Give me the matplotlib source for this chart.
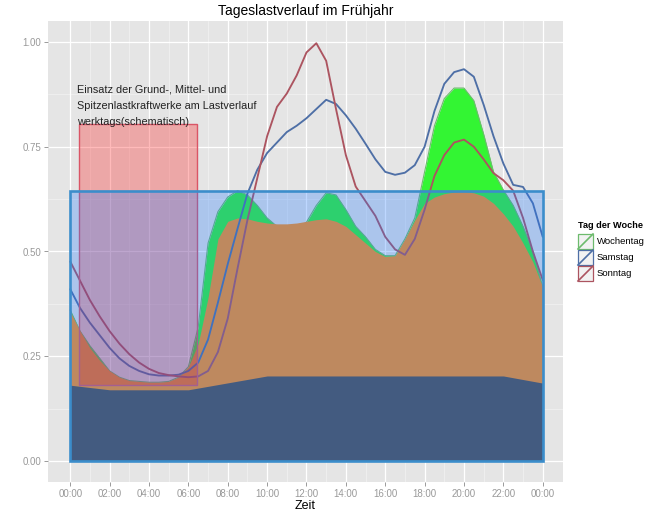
import numpy as np
import matplotlib
matplotlib.use("Agg")
import matplotlib.pyplot as plt
from matplotlib.patches import Rectangle

plt.rcParams['font.family'] = ['Liberation Sans', 'DejaVu Sans']

# ---------------- data ----------------
hours = np.arange(0, 24.01, 0.5)

wochentag = [0.360, 0.310, 0.275, 0.245, 0.215, 0.200, 0.192, 0.190, 0.188, 0.188,
             0.190, 0.200, 0.225, 0.320, 0.520, 0.595, 0.630, 0.645, 0.635, 0.610,
             0.580, 0.560, 0.550, 0.553, 0.570, 0.610, 0.640, 0.635, 0.600, 0.560,
             0.535, 0.505, 0.490, 0.490, 0.530, 0.580, 0.690, 0.800, 0.865, 0.890,
             0.890, 0.860, 0.780, 0.690, 0.647, 0.610, 0.560, 0.500, 0.415]

mittellast = [0.356, 0.310, 0.270, 0.240, 0.215, 0.200, 0.192, 0.190, 0.188, 0.188,
              0.190, 0.200, 0.225, 0.280, 0.390, 0.530, 0.572, 0.580, 0.578, 0.572,
              0.568, 0.566, 0.566, 0.568, 0.572, 0.576, 0.578, 0.572, 0.560, 0.540,
              0.520, 0.500, 0.488, 0.490, 0.530, 0.575, 0.615, 0.630, 0.638, 0.642,
              0.643, 0.640, 0.632, 0.615, 0.590, 0.560, 0.520, 0.475, 0.415]

samstag = [0.410, 0.365, 0.330, 0.300, 0.270, 0.245, 0.227, 0.215, 0.207, 0.204,
           0.204, 0.206, 0.215, 0.235, 0.290, 0.378, 0.470, 0.555, 0.638, 0.695,
           0.735, 0.760, 0.785, 0.800, 0.818, 0.840, 0.862, 0.852, 0.825, 0.793,
           0.757, 0.720, 0.690, 0.683, 0.688, 0.706, 0.750, 0.835, 0.900, 0.928,
           0.935, 0.917, 0.850, 0.775, 0.710, 0.659, 0.654, 0.615, 0.535]

sonntag = [0.476, 0.430, 0.384, 0.345, 0.310, 0.280, 0.255, 0.235, 0.220, 0.210,
           0.205, 0.202, 0.200, 0.202, 0.215, 0.260, 0.340, 0.460, 0.575, 0.675,
           0.775, 0.845, 0.877, 0.920, 0.975, 0.997, 0.955, 0.840, 0.730, 0.655,
           0.620, 0.585, 0.535, 0.505, 0.492, 0.530, 0.600, 0.680, 0.730, 0.760,
           0.767, 0.750, 0.720, 0.687, 0.670, 0.645, 0.580, 0.500, 0.432]

grund_hours = [0, 2, 6, 10, 22, 24]
grundlast = [0.181, 0.170, 0.170, 0.203, 0.203, 0.186]

# schematic boxes (hours / load)
mittel_box = (0.0, 24.0, 0.0, 0.645)
spitzen_box = (0.42, 6.42, 0.182, 0.804)

xtick_hours = list(range(0, 25, 2))
xtick_labels = ["00:00", "02:00", "04:00", "06:00", "08:00", "10:00", "12:00",
                "14:00", "16:00", "18:00", "20:00", "22:00", "00:00"]
ytick_vals = [0.0, 0.25, 0.5, 0.75, 1.0]
ytick_labels = ["0.00", "0.25", "0.50", "0.75", "1.00"]

series_names = ["Wochentag", "Samstag", "Sonntag"]
series_colors = ["#6DBB6D", "#4E6FA6", "#AC5460"]

# ---------------- figure ----------------
W, H = 650, 513
fig = plt.figure(figsize=(W / 100, H / 100), dpi=100)
fig.patch.set_facecolor("white")

ax = fig.add_axes([48 / W, 1 - 482 / H, (563 - 48) / W, (482 - 21) / H])
ax.set_facecolor("#E5E5E5")
ax.set_xlim(-1.13, 25.03)
ax.set_ylim(-0.05, 1.05)

# grid
for h in range(1, 25, 2):
    ax.axvline(h, color="#F2F2F2", lw=0.5, zorder=0.5)
for v in [0.125, 0.375, 0.625, 0.875]:
    ax.axhline(v, color="#F2F2F2", lw=0.5, zorder=0.5)
for h in xtick_hours:
    ax.axvline(h, color="white", lw=0.9, zorder=0.6)
for v in ytick_vals:
    ax.axhline(v, color="white", lw=0.9, zorder=0.6)

# areas
ax.fill_between(hours, 0, wochentag, color="#33F533", lw=0, zorder=1)
ax.plot(hours, wochentag, color=series_colors[0], lw=0.8, zorder=1.1)
ax.fill_between(hours, 0, mittellast, color="#FF911F", lw=0, zorder=1.5)

# lines
ax.plot(hours, samstag, color=series_colors[1], lw=1.35, zorder=2,
        solid_capstyle="round", solid_joinstyle="round")
ax.plot(hours, sonntag, color=series_colors[2], lw=1.35, zorder=2.1,
        solid_capstyle="round", solid_joinstyle="round")

# peak-load box (red)
x0, x1, y0, y1 = spitzen_box
ax.add_patch(Rectangle((x0, y0), x1 - x0, y1 - y0, facecolor=(1.0, 0.0, 0.0, 0.27),
                       edgecolor="#DA5566", lw=1.0, zorder=3))
# mid-load box (blue) fill on top
mx0, mx1, my0, my1 = mittel_box
ax.add_patch(Rectangle((mx0, my0), mx1 - mx0, my1 - my0,
                       facecolor=(31 / 255, 120 / 255, 1.0, 0.29), lw=0, zorder=4))
# base load
ax.fill_between(grund_hours, 0, grundlast, color="#435B80", lw=0, zorder=4.5)
# box outline
ax.add_patch(Rectangle((mx0, my0), mx1 - mx0, my1 - my0, facecolor="none",
                       edgecolor="#3B8DCB", lw=1.9, zorder=5))

# axes styling
for s in ax.spines.values():
    s.set_visible(False)
ax.set_xticks(xtick_hours)
ax.set_xticklabels(xtick_labels)
ax.set_yticks(ytick_vals)
ax.set_yticklabels(ytick_labels)
ax.tick_params(axis="both", colors="#8A8A8A", labelcolor="#999999", labelsize=7,
               length=3, width=0.6, pad=2)
ax.set_xlabel("Zeit", fontsize=9, labelpad=1)
ax.set_title("Tageslastverlauf im Frühjahr", fontsize=10, pad=4)

# ---------------- overlay (annotation + legend) in pixel coordinates ----------------
ov = fig.add_axes([0, 0, 1, 1])
ov.set_xlim(0, W)
ov.set_ylim(H, 0)
ov.axis("off")
ov.patch.set_alpha(0)

ov.text(77, 85, "Einsatz der Grund-, Mittel- und\nSpitzenlastkraftwerke am Lastverlauf\nwerktags(schematisch)",
        fontsize=7.8, va="top", ha="left", linespacing=1.75, color="#222222")

ov.text(578, 226, "Tag der Woche", fontsize=6.6, fontweight="bold", va="center", ha="left")
key_tops = [234, 250, 266]
for name, col, kt in zip(series_names, series_colors, key_tops):
    ov.add_patch(Rectangle((578, kt), 15, 15, facecolor="#F2F2F2", edgecolor=col, lw=0.9))
    ov.plot([578, 593], [kt + 15, kt], color=col, lw=1.2)
    ov.text(597, kt + 8, name, fontsize=6.8, va="center", ha="left")

fig.savefig("out.png", dpi=100)
